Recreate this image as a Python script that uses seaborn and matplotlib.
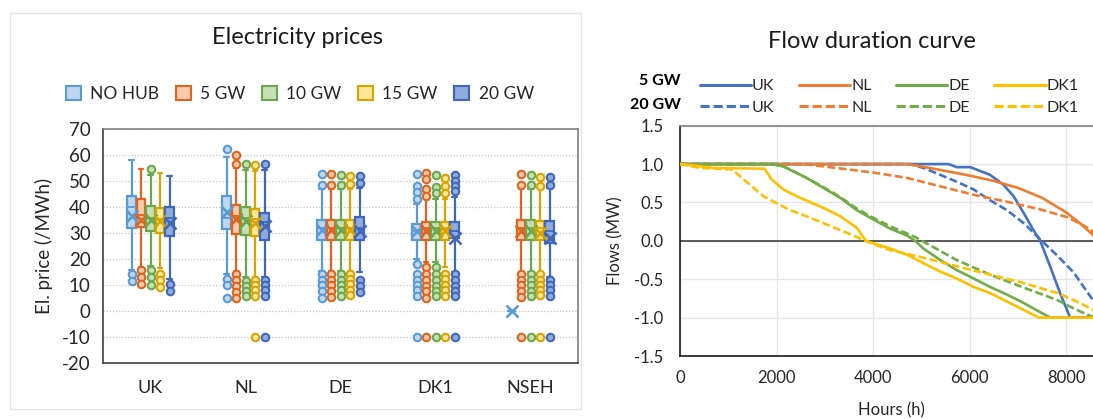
import numpy as np
import pandas as pd
import matplotlib
matplotlib.use("Agg")
import matplotlib.pyplot as plt
import seaborn as sns
from matplotlib.patches import Patch, Rectangle
from matplotlib.lines import Line2D
from matplotlib.ticker import FormatStrFormatter

# ---------------- data: electricity prices (box plots) ----------------
countries = ["UK", "NL", "DE", "DK1", "NSEH"]
hubs = ["NO HUB", "5 GW", "10 GW", "15 GW", "20 GW"]

# rows = hubs, columns = countries
whislo = [
    [16.0, 14.5, 15.5, 20.3, 0.0],
    [17.0, 15.5, 15.5, 19.0, 15.2],
    [17.5, 13.0, 15.5, 19.0, 15.2],
    [16.5, 13.0, 15.5, 17.1, 15.2],
    [12.5, 13.2, 15.0, 15.2, 13.2],
]
q1 = [
    [32.0, 31.8, 27.5, 27.5, 0.0],
    [32.3, 29.9, 27.5, 27.5, 27.5],
    [31.0, 29.2, 27.5, 27.5, 27.5],
    [30.1, 28.8, 27.5, 27.5, 27.5],
    [29.1, 27.5, 27.5, 28.1, 26.2],
]
median = [
    [40.0, 36.0, 32.0, 31.0, 0.0],
    [37.0, 36.5, 32.0, 32.0, 32.0],
    [36.0, 36.0, 32.0, 32.0, 32.0],
    [35.5, 35.5, 32.0, 32.0, 32.0],
    [36.0, 34.5, 32.0, 31.0, 31.0],
]
q3 = [
    [44.4, 44.4, 35.3, 33.6, 0.0],
    [43.1, 40.9, 35.3, 34.4, 35.3],
    [40.5, 40.1, 35.3, 34.4, 35.3],
    [39.9, 39.2, 35.3, 34.4, 34.9],
    [40.1, 37.9, 36.2, 34.4, 34.8],
]
whishi = [
    [58.0, 59.5, 47.0, 41.2, 0.0],
    [54.8, 55.0, 47.0, 43.0, 47.0],
    [52.5, 54.5, 47.0, 43.0, 47.0],
    [53.1, 54.0, 47.0, 43.0, 47.0],
    [52.2, 54.2, 47.5, 44.0, 47.5],
]
mean = [
    [36.5, 38.0, 31.4, 30.8, 0.0],
    [35.3, 35.6, 31.4, 30.8, 30.8],
    [35.3, 34.7, 31.4, 30.8, 30.8],
    [34.7, 34.0, 31.4, 30.8, 30.2],
    [34.0, 32.7, 30.8, 28.1, 28.1],
]
fliers = [
    [[14.5, 11.5], [62.3, 12.6, 10.0, 5.1], [52.9, 48.5, 14.3, 12.0, 10.0, 7.8, 5.1],
     [52.9, 48.3, 45.7, 43.1, 18.0, 14.5, 12.0, 10.3, 8.1, 5.8, -10.0], []],
    [[15.8, 13.2, 10.4], [60.3, 56.5, 14.3, 12.0, 9.8, 7.4, 5.2], [52.9, 48.5, 14.3, 12.0, 10.0, 7.8, 5.5],
     [53.1, 50.9, 47.0, 44.4, 17.1, 14.2, 12.0, 9.7, 7.7, 5.2, -10.0], [52.9, 48.6, 14.3, 12.0, 10.0, 7.8, 5.5, -10.0]],
    [[54.8, 15.8, 13.0, 10.3], [56.5, 11.7, 9.7, 7.8, 5.8], [52.5, 48.5, 14.3, 12.0, 10.0, 8.0, 6.0],
     [52.6, 47.7, 45.5, 17.1, 14.3, 12.0, 9.7, 7.8, 5.8, -10.0], [52.6, 48.6, 14.3, 12.0, 10.0, 7.8, 5.8, -10.0]],
    [[14.5, 12.0, 9.2], [56.1, 12.0, 10.0, 8.0, 6.0, -10.0], [52.0, 49.0, 14.5, 12.5, 10.5, 8.3, 6.3],
     [51.3, 48.1, 45.5, 14.5, 12.3, 10.0, 8.1, 5.8, -10.0], [51.6, 48.0, 14.5, 12.2, 10.0, 8.1, 6.1, -10.0]],
    [[10.4, 7.8], [56.5, 12.0, 10.0, 8.0, 6.0, -10.0], [52.2, 49.2, 12.0, 9.7, 7.5],
     [52.6, 50.3, 48.3, 46.4, 14.3, 12.0, 9.7, 7.8, 5.8, -10.0], [51.6, 48.6, 12.0, 10.0, 8.0, 6.0, -10.0]],
]
price_ticks = [-20, -10, 0, 10, 20, 30, 40, 50, 60, 70]

# ---------------- data: flow duration curves ----------------
uk_5_h = [0, 5560, 5730, 6010, 6420, 6700, 6910, 7120, 7320, 7460, 7670, 7870, 8080, 8760]
uk_5_f = [1.0, 1.0, 0.96, 0.96, 0.86, 0.73, 0.58, 0.36, 0.14, 0.0, -0.34, -0.68, -1.0, -1.0]
uk_20_h = [0, 4760, 5040, 5390, 5730, 6080, 6420, 6770, 7120, 7460, 7810, 8150, 8560, 8760]
uk_20_f = [1.0, 1.0, 0.95, 0.86, 0.77, 0.67, 0.53, 0.40, 0.23, 0.02, -0.19, -0.41, -0.78, -0.92]
nl_5_h = [0, 4700, 5000, 5500, 6000, 6500, 7000, 7500, 8000, 8300, 8550, 8760]
nl_5_f = [1.0, 1.0, 0.97, 0.91, 0.85, 0.78, 0.69, 0.56, 0.37, 0.22, 0.08, -0.12]
nl_20_h = [0, 2560, 2970, 4000, 4700, 5390, 6080, 6770, 7460, 8010, 8360, 8560, 8760]
nl_20_f = [1.0, 1.0, 0.97, 0.89, 0.82, 0.71, 0.60, 0.51, 0.41, 0.31, 0.20, 0.12, 0.0]
de_5_h = [0, 1900, 2140, 2620, 2970, 3320, 3660, 4000, 4350, 4700, 4870, 5040, 5390, 5730,
          6080, 6420, 6770, 7120, 7460, 7670, 8760]
de_5_f = [1.0, 1.0, 0.97, 0.82, 0.69, 0.56, 0.40, 0.28, 0.16, 0.07, 0.0, -0.10, -0.25, -0.38,
          -0.49, -0.60, -0.70, -0.81, -0.93, -1.0, -1.0]
de_20_h = [0, 1900, 2140, 2620, 2970, 3320, 3660, 4000, 4350, 4870, 5040, 5730, 6420, 7120,
           7810, 8150, 8500, 8760]
de_20_f = [1.0, 1.0, 0.97, 0.82, 0.70, 0.57, 0.42, 0.30, 0.19, 0.05, -0.01, -0.25, -0.44, -0.61,
           -0.77, -0.88, -0.98, -1.0]
dk_5_h = [0, 300, 700, 1750, 1900, 2140, 2420, 2970, 3320, 3660, 3850, 4350, 4700, 5040, 5390,
          5730, 6080, 6420, 6770, 7120, 7430, 8760]
dk_5_f = [1.0, 0.98, 0.95, 0.94, 0.80, 0.67, 0.58, 0.43, 0.32, 0.17, 0.0, -0.10, -0.18, -0.29,
          -0.40, -0.49, -0.60, -0.68, -0.79, -0.90, -1.0, -1.0]
dk_20_h = [0, 410, 1100, 1170, 1450, 1730, 2000, 2280, 2620, 2970, 3320, 3660, 4000, 4350, 4700,
           5040, 5730, 6420, 7120, 7810, 8150, 8560, 8760]
dk_20_f = [1.0, 0.95, 0.93, 0.88, 0.73, 0.58, 0.49, 0.40, 0.32, 0.23, 0.14, 0.05, -0.04, -0.12,
           -0.17, -0.22, -0.33, -0.44, -0.55, -0.68, -0.77, -0.90, -0.97]
regions = ["UK", "NL", "DE", "DK1"]
scenarios = ["5 GW", "20 GW"]
flow_ticks = [-1.5, -1.0, -0.5, 0.0, 0.5, 1.0, 1.5]
hour_ticks = [0, 2000, 4000, 6000, 8000]

# ---------------- style ----------------
sns.set_theme(style="white")
plt.rcParams["font.family"] = ["Lato", "DejaVu Sans"]
plt.rcParams["axes.unicode_minus"] = False
TXT = "#262626"

W, H = 1093, 419
fig = plt.figure(figsize=(W / 100, H / 100), dpi=100)
fig.patch.set_facecolor("white")

edge_cols = ["#5B9BD5", "#E0641E", "#6AA84F", "#D9A300", "#3F68B8"]
fill_cols = ["#BDD7EE", "#F8CBAD", "#C5E0B4", "#FFE699", "#8FAADC"]

# ---------------- left: box plots ----------------
ax1 = fig.add_axes([103 / W, 1 - 363.3 / H, 475 / W, 234 / H])
offsets = [-0.2, -0.1, 0.0, 0.1, 0.2]
for hi, hub in enumerate(hubs):
    stats = []
    for ci in range(len(countries)):
        stats.append(dict(med=median[hi][ci], q1=q1[hi][ci], q3=q3[hi][ci],
                          whislo=whislo[hi][ci], whishi=whishi[hi][ci],
                          mean=mean[hi][ci], fliers=np.array(fliers[hi][ci])))
    ec, fc = edge_cols[hi], fill_cols[hi]
    ax1.bxp(stats, positions=np.arange(len(countries)) + offsets[hi], widths=0.09,
            patch_artist=True, showmeans=True, manage_ticks=False,
            boxprops=dict(facecolor=fc, edgecolor=ec, linewidth=1.6),
            medianprops=dict(color=ec, linewidth=1.3),
            whiskerprops=dict(color=ec, linewidth=1.6),
            capprops=dict(color=ec, linewidth=1.6),
            meanprops=dict(marker="x", markeredgecolor=ec, markersize=9, markeredgewidth=1.9),
            flierprops=dict(marker="o", markerfacecolor=fc, markeredgecolor=ec,
                            markersize=5.4, markeredgewidth=1.5))

ax1.set_xlim(-0.5, 4.5)
ax1.set_ylim(-20, 70)
ax1.set_yticks(price_ticks)
ax1.set_xticks(range(len(countries)))
ax1.set_xticklabels(countries)
ax1.yaxis.grid(True, color="#C8C8C8", linestyle=(0, (1, 1.5)), linewidth=0.9)
ax1.xaxis.grid(False)
ax1.set_axisbelow(True)
ax1.tick_params(axis="y", length=0, pad=9, labelsize=13.5, labelcolor=TXT)
ax1.tick_params(axis="x", length=0, pad=12, labelsize=13, labelcolor=TXT)
for s in ["left", "bottom"]:
    ax1.spines[s].set_color("#404040")
    ax1.spines[s].set_linewidth(1.2)
for s in ["top", "right"]:
    ax1.spines[s].set_color("#808080")
    ax1.spines[s].set_linewidth(1.2)
ax1.set_ylabel("El. price (/MWh)", fontsize=13.5, color=TXT, labelpad=6)

fig.text(297 / W, 1 - 38 / H, "Electricity prices", ha="center", va="center",
         fontsize=17, color="#1a1a1a")
leg_handles = [Patch(facecolor=fill_cols[i], edgecolor=edge_cols[i], linewidth=1.5) for i in range(5)]
fig.legend(leg_handles, hubs, loc="center", bbox_to_anchor=(300 / W, 1 - 94 / H), ncol=5,
           frameon=False, fontsize=12.5, handlelength=0.85, handleheight=0.85,
           handletextpad=0.55, columnspacing=0.95, labelcolor=TXT)

fig.add_artist(Rectangle((10 / W, 1 - 409 / H), 571 / W, 396 / H, transform=fig.transFigure,
                         fill=False, edgecolor="#E4E4E4", linewidth=1))

# ---------------- right: flow duration curves ----------------
rows = []
series = [("UK", "5 GW", uk_5_h, uk_5_f), ("UK", "20 GW", uk_20_h, uk_20_f),
          ("NL", "5 GW", nl_5_h, nl_5_f), ("NL", "20 GW", nl_20_h, nl_20_f),
          ("DE", "5 GW", de_5_h, de_5_f), ("DE", "20 GW", de_20_h, de_20_f),
          ("DK1", "5 GW", dk_5_h, dk_5_f), ("DK1", "20 GW", dk_20_h, dk_20_f)]
for reg, sc, hh, ff in series:
    for h_, f_ in zip(hh, ff):
        rows.append(dict(hours=h_, flow=f_, region=reg, scenario=sc))
df = pd.DataFrame(rows)

line_cols = {"UK": "#4472C4", "NL": "#ED7D31", "DE": "#70AD47", "DK1": "#FFC000"}
dash_map = {"5 GW": "", "20 GW": (3.0, 1.3)}

ax2 = fig.add_axes([680 / W, 1 - 356 / H, 423 / W, 230.3 / H])
ax2.axhline(0, color="#404040", linewidth=1.2, zorder=1)
sns.lineplot(data=df, x="hours", y="flow", hue="region", style="scenario",
             hue_order=regions, style_order=scenarios, palette=line_cols, dashes=dash_map,
             estimator=None, sort=False, linewidth=1.9, legend=False, ax=ax2, zorder=3)
ax2.set_xlim(0, 8760)
ax2.set_ylim(-1.5, 1.5)
ax2.set_xticks(hour_ticks)
ax2.set_yticks(flow_ticks)
ax2.yaxis.set_major_formatter(FormatStrFormatter("%.1f"))
ax2.grid(True, color="#E6E6E6", linewidth=1)
ax2.set_axisbelow(True)
ax2.tick_params(axis="y", length=0, pad=12, labelsize=12, labelcolor=TXT)
ax2.tick_params(axis="x", length=0, pad=10, labelsize=12, labelcolor=TXT)
for s in ["left", "bottom"]:
    ax2.spines[s].set_color("#1a1a1a")
    ax2.spines[s].set_linewidth(1.2)
ax2.spines["top"].set_color("#808080")
ax2.spines["top"].set_linewidth(1.2)
ax2.spines["right"].set_visible(False)
ax2.set_xlabel("Hours (h)", fontsize=12, color=TXT, labelpad=12)
ax2.set_ylabel("Flows (MW)", fontsize=12, color=TXT, labelpad=8)

fig.text(872 / W, 1 - 42 / H, "Flow duration curve", ha="center", va="center",
         fontsize=17, color="#1a1a1a")
lh, ll = [], []
for reg in regions:
    for sc in scenarios:
        ls = "-" if sc == "5 GW" else (0, dash_map[sc])
        lh.append(Line2D([], [], color=line_cols[reg], linewidth=2.2, linestyle=ls))
        ll.append(reg)
fig.legend(lh, ll, loc="upper left", bbox_to_anchor=(692 / W, 1 - 71 / H), ncol=4,
           frameon=False, fontsize=11.5, handlelength=3.2, handletextpad=0.05,
           columnspacing=1.55, labelspacing=0.45, borderpad=0, labelcolor=TXT)
fig.text(681 / W, 1 - 80.7 / H, "5 GW", ha="right", va="center", fontsize=11.5,
         fontweight="bold", color="#000000")
fig.text(681 / W, 1 - 105 / H, "20 GW", ha="right", va="center", fontsize=11.5,
         fontweight="bold", color="#000000")

fig.savefig("out.png", dpi=100)
